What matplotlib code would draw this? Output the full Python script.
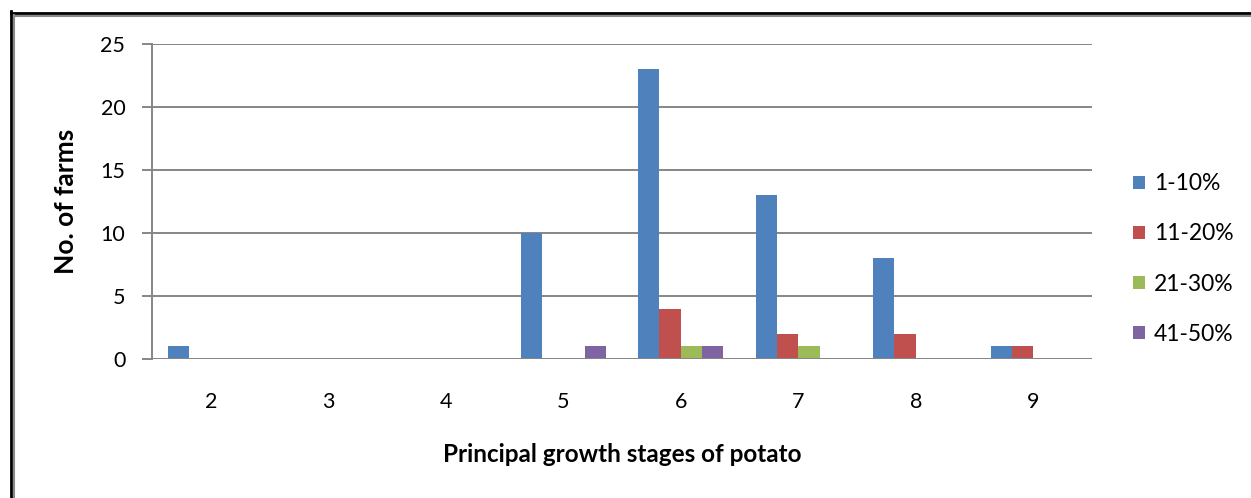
import matplotlib.pyplot as plt
import numpy as np
from matplotlib.lines import Line2D

stages = ["2", "3", "4", "5", "6", "7", "8", "9"]
series_names = ["1-10%", "11-20%", "21-30%", "41-50%"]
farms_1_10 = [1, 0, 0, 10, 23, 13, 8, 1]
farms_11_20 = [0, 0, 0, 0, 4, 2, 2, 1]
farms_21_30 = [0, 0, 0, 0, 1, 1, 0, 0]
farms_41_50 = [0, 0, 0, 1, 1, 0, 0, 0]
colors = ["#4F81BD", "#C0504D", "#9BBB59", "#8064A2"]


def main():
    plt.rcParams['font.family'] = ['Lato', 'DejaVu Sans']

    fig = plt.figure(figsize=(12.51, 4.98), dpi=100)
    ax = fig.add_axes([152 / 1251, 1 - 359 / 498, 940 / 1251, 315 / 498])

    x = np.arange(len(stages))
    width = 1 / 5.5
    all_series = [farms_1_10, farms_11_20, farms_21_30, farms_41_50]
    for i, (vals, name, col) in enumerate(zip(all_series, series_names, colors)):
        offset = (i - 1.5) * width
        ax.bar(x + offset, vals, width, color=col, label=name, zorder=3)

    ax.set_xlim(-0.5, len(stages) - 0.5)
    ax.set_ylim(0, 25)
    ax.set_yticks([0, 5, 10, 15, 20, 25])
    ax.set_xticks(x)
    ax.set_xticklabels(stages)

    grid = "#868686"
    ax.yaxis.grid(True, color=grid, linewidth=1.4, zorder=0)
    for side in ["top", "right", "bottom"]:
        ax.spines[side].set_visible(False)
    ax.spines["left"].set_color(grid)
    ax.spines["left"].set_linewidth(1.4)
    ax.axhline(0, color=grid, linewidth=1.4, zorder=4)
    ax.tick_params(axis="y", length=7.2, width=1.4, color=grid, pad=12,
                   labelsize=15.5)
    ax.tick_params(axis="x", length=0, pad=24, labelsize=15.5)

    ax.set_xlabel("Principal growth stages of potato", fontsize=17.5,
                  fontweight="bold", labelpad=22)
    ax.set_ylabel("No. of farms", fontsize=19, fontweight="bold", labelpad=16)

    fig.legend(loc="center left", bbox_to_anchor=(1133 / 1251, 1 - 259 / 498),
               frameon=False, fontsize=16.5, handlelength=0.52, handleheight=0.52,
               handletextpad=0.4, labelspacing=1.27, borderpad=0,
               borderaxespad=0)

    # double frame line along the top and left edges
    fig.add_artist(Line2D([11 / 1251, 11 / 1251], [0, 1 - 11 / 498],
                          transform=fig.transFigure, color="black", linewidth=2))
    fig.add_artist(Line2D([11 / 1251, 1], [1 - 13 / 498, 1 - 13 / 498],
                          transform=fig.transFigure, color="black", linewidth=2))
    fig.add_artist(Line2D([13.8 / 1251, 13.8 / 1251], [0, 1 - 15 / 498],
                          transform=fig.transFigure, color="#8a8a8a", linewidth=1.5))
    fig.add_artist(Line2D([13.8 / 1251, 1], [1 - 15.6 / 498, 1 - 15.6 / 498],
                          transform=fig.transFigure, color="#8a8a8a", linewidth=1.5))

    fig.savefig("out.png", dpi=100)


if __name__ == "__main__":
    main()
